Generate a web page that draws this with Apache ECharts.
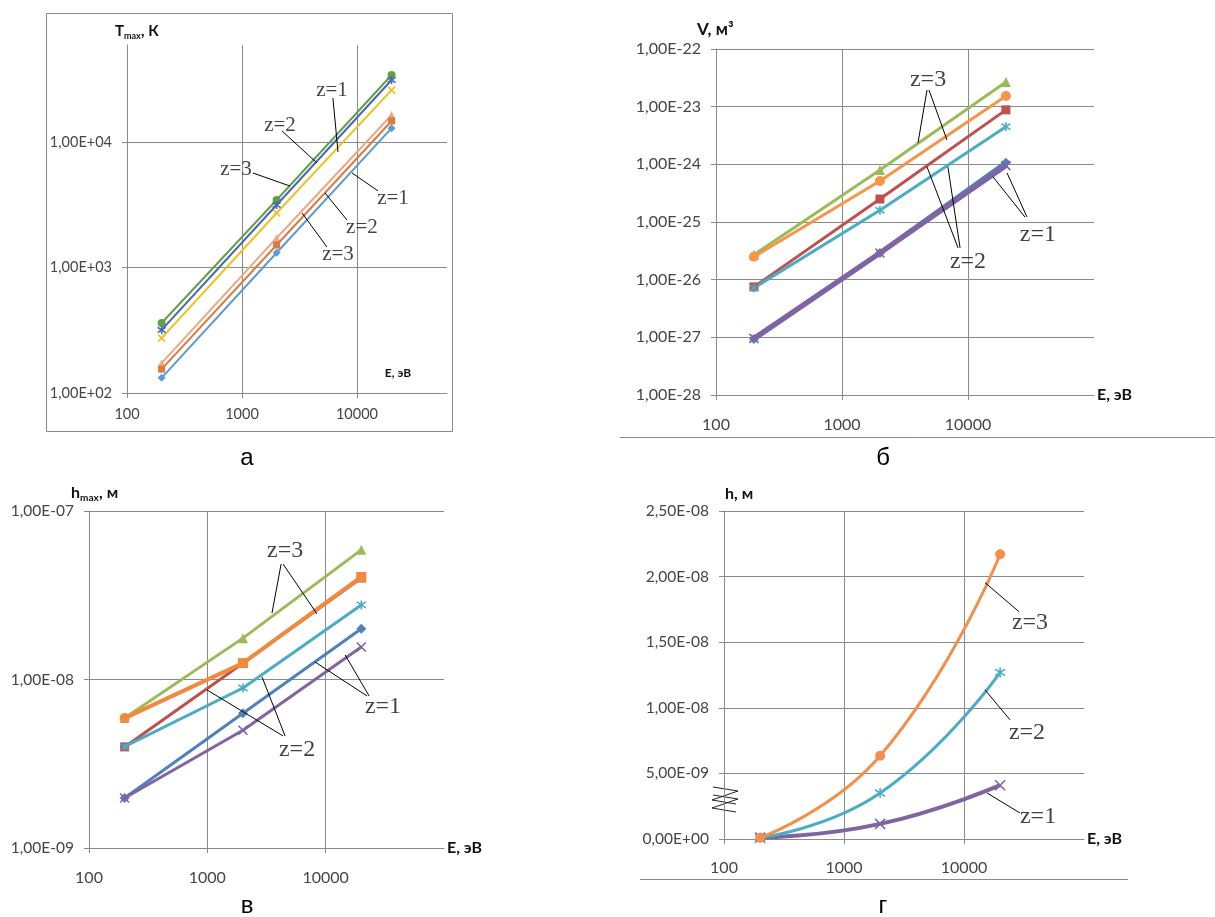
<!DOCTYPE html>
<html><head><meta charset="utf-8">
<script src="https://cdn.jsdelivr.net/npm/echarts@6/dist/echarts.min.js"></script>
<style>html,body{margin:0;padding:0;background:#fff}#c{width:1215px;height:917px}</style>
</head><body><div id="c"></div>
<script>
// ---------- data ----------
const energy = [200, 2000, 20000];               // E, эВ
const xTickLabels = ['100', '1000', '10000'];

// panel а : Tmax, K
const yTicksA = ['1,00E+02', '1,00E+03', '1,00E+04'];
const tA_z1lo = [132, 1310, 12900];
const tA_z2lo = [155, 1510, 14700];
const tA_z3lo = [173, 1720, 16400];
const tA_z1hi = [274, 2720, 25900];
const tA_z2hi = [318, 3150, 31200];
const tA_z3hi = [361, 3450, 34200];

// panel б : V, м3
const yTicksB = ['1,00E-28', '1,00E-27', '1,00E-26', '1,00E-25', '1,00E-24', '1,00E-23', '1,00E-22'];
const vB_blue   = [9.4e-28, 2.9e-26, 1.06e-24];
const vB_red    = [7.5e-27, 2.5e-25, 8.8e-24];
const vB_green  = [2.7e-26, 8.0e-25, 2.68e-23];
const vB_purple = [9.6e-28, 2.9e-26, 9.5e-25];
const vB_aqua   = [7.2e-27, 1.6e-25, 4.5e-24];
const vB_orange = [2.5e-26, 5.15e-25, 1.53e-23];

// panel в : hmax, м
const yTicksC = ['1,00E-09', '1,00E-08', '1,00E-07'];
const hC_blue   = [1.98e-9, 6.3e-9, 2.0e-8];
const hC_red    = [3.98e-9, 1.25e-8, 4.0e-8];
const hC_green  = [5.91e-9, 1.76e-8, 5.88e-8];
const hC_purple = [1.98e-9, 5.0e-9, 1.56e-8];
const hC_aqua   = [4.0e-9, 8.9e-9, 2.77e-8];
const hC_orange = [5.9e-9, 1.25e-8, 4.06e-8];

// panel г : h, м
const yTicksD = ['0,00E+00', '5,00E-09', '1,00E-08', '1,50E-08', '2,00E-08', '2,50E-08'];
const hD_purple = [1.0e-10, 1.15e-9, 4.1e-9];
const hD_aqua   = [1.0e-10, 3.5e-9, 1.27e-8];
const hD_orange = [1.0e-10, 6.34e-9, 2.17e-8];

// annotations: [text, E, value] and leader lines [[E1,v1],[E2,v2]]
const notesA = [['z=1', 6070, 25900], ['z=2', 2140, 13650], ['z=3', 887, 5990],
                ['z=1', 20560, 3580], ['z=2', 11040, 2100], ['z=3', 6840, 1259]];
const leadersA = [[[6180, 22400], [6840, 8320]], [[2230, 12240], [4490, 6810]], [[1247, 5660], [2610, 4460]],
                  [[15240, 4080], [9060, 5660]], [[8190, 2390], [5270, 3930]], [[5480, 1456], [3330, 2720]]];
const notesB = [['z=3', 4820, 2.9e-23], ['z=2', 10000, 2.03e-26], ['z=1', 35900, 5.97e-26]];
const leadersB = [[[4730, 1.95e-23], [4010, 2.35e-24]], [[4900, 1.95e-23], [6810, 2.65e-24]],
                  [[8340, 3.56e-26], [4730, 9.0e-25]], [[8650, 3.56e-26], [6930, 9.0e-25]],
                  [[28300, 1.22e-25], [15800, 6.05e-25]], [[29400, 1.22e-25], [20400, 7.1e-25]]];
const notesC = [['z=3', 4540, 5.79e-8], ['z=2', 5730, 3.82e-9], ['z=1', 30500, 6.87e-9]];
const leadersC = [[[4200, 4.84e-8], [3520, 2.48e-8]], [[4370, 4.84e-8], [8450, 2.45e-8]],
                  [[4370, 4.62e-9], [994, 8.67e-9]], [[4540, 4.62e-9], [2900, 1.035e-8]],
                  [[22400, 7.98e-9], [8130, 1.27e-8]], [[23300, 7.98e-9], [14600, 1.40e-8]]];
const notesD = [['z=3', 35500, 1.649e-8], ['z=2', 33500, 8.09e-9], ['z=1', 41400, 1.68e-9]];
const leadersD = [[[28700, 1.733e-8], [14960, 1.954e-8]], [[24200, 9.08e-9], [14960, 1.137e-8]],
                  [[29300, 1.98e-9], [15550, 3.51e-9]]];

// ECharts rounds numbers to 20 decimals, so panel б is plotted in units of 1e-25 m3
const B_UNIT = 1e-25;
const bScale = (v) => v / B_UNIT;

// ---------- styling ----------
const GRID = '#8a8a8a', LAB = '#454545';
const SANS = 'Lato, "Open Sans", sans-serif';
const SERIF = '"Liberation Serif", "DejaVu Serif", serif';
const X_PATH = 'path://M0,0L10,10M10,0L0,10';
const STAR_PATH = 'path://M0,1L10,9M10,1L0,9M5,-1L5,11';

function logFmt(labels, minExp) {
  return function (v) {
    const e = Math.log10(v), r = Math.round(e);
    if (Math.abs(e - r) > 1e-6) return '';
    const s = labels[r - minExp];
    return s === undefined ? '' : s;
  };
}
function xAxis(gi, max, margin, name, fs) {
  return {
    type: 'log', logBase: 10, gridIndex: gi, min: 100, max: max,
    name: name || '', nameLocation: 'end', nameGap: 3,
    nameTextStyle: { fontFamily: SANS, fontWeight: 'bold', fontSize: 16, color: '#111' },
    axisLine: { show: true, lineStyle: { color: GRID, width: 1 } },
    axisTick: { show: true, length: 5, lineStyle: { color: GRID } },
    minorTick: { show: false }, minorSplitLine: { show: false },
    splitLine: { show: true, showMinLine: false, showMaxLine: false, lineStyle: { color: GRID, width: 1 } },
    axisLabel: { formatter: logFmt(xTickLabels, 2), showMaxLabel: false, showMinLabel: true,
                 color: LAB, fontFamily: SANS, fontSize: fs, margin: margin }
  };
}
function yLog(gi, min, max, labels, minExp, showMax, fs) {
  return {
    type: 'log', logBase: 10, gridIndex: gi, min: min, max: max,
    axisLine: { show: true, lineStyle: { color: GRID, width: 1 } },
    axisTick: { show: true, length: 5, lineStyle: { color: GRID } },
    minorTick: { show: false }, minorSplitLine: { show: false },
    splitLine: { show: true, showMinLine: false, showMaxLine: showMax, lineStyle: { color: GRID, width: 1 } },
    axisLabel: { formatter: logFmt(labels, minExp), showMaxLabel: showMax,
                 color: LAB, fontFamily: SANS, fontSize: fs, margin: 15 }
  };
}
function ser(gi, vals, color, symbol, width, size, z, extra, scale) {
  const stroke = symbol === X_PATH || symbol === STAR_PATH;
  const f = scale || ((v) => v);
  return Object.assign({
    type: 'line', xAxisIndex: gi, yAxisIndex: gi,
    data: energy.map((e, i) => [e, f(vals[i])]),
    symbol: symbol, symbolSize: size, showSymbol: true, z: z,
    lineStyle: { color: color, width: width },
    itemStyle: { color: stroke ? 'rgba(0,0,0,0)' : color, borderColor: color, borderWidth: stroke ? 1.6 : 0 },
    silent: true, animation: false
  }, extra || {});
}
function leaderSer(gi, list, scale) {
  const f = scale || ((v) => v);
  return { type: 'lines', coordinateSystem: 'cartesian2d', xAxisIndex: gi, yAxisIndex: gi,
           silent: true, z: 20, animation: false,
           lineStyle: { color: '#000', width: 1, opacity: 1, curveness: 0 },
           data: list.map(c => ({ coords: c.map(p => [p[0], f(p[1])]) })) };
}
function noteSer(gi, list, fs, scale) {
  const f = scale || ((v) => v);
  return { type: 'scatter', xAxisIndex: gi, yAxisIndex: gi, silent: true, z: 21, animation: false,
           symbolSize: 1, itemStyle: { color: 'rgba(0,0,0,0)' },
           label: { show: true, position: 'inside', formatter: '{b}', fontFamily: SERIF, fontSize: fs, color: '#111' },
           data: list.map(n => ({ name: n[0], value: [n[1], f(n[2])] })) };
}

const chart = echarts.init(document.getElementById('c'), null, { renderer: 'canvas' });

const xMaxA = Math.pow(10, 4.783);
const yMaxA = Math.pow(10, 4.773);

const option = {
  backgroundColor: '#fff',
  animation: false,
  grid: [
    { left: 127, top: 45, width: 320, height: 348 },
    { left: 716, top: 49, width: 378, height: 346 },
    { left: 89, top: 511, width: 355, height: 337 },
    { left: 724, top: 511, width: 360, height: 328 }
  ],
  xAxis: [
    xAxis(0, xMaxA, 14, '', 14.5),
    xAxis(1, 100000, 22, 'E, эВ', 16),
    xAxis(2, 100000, 22, 'E, эВ', 16),
    xAxis(3, 100000, 21, 'E, эВ', 16)
  ],
  yAxis: [
    yLog(0, 100, yMaxA, yTicksA, 2, false, 14.5),
    yLog(1, bScale(1e-28), bScale(1e-22), yTicksB, Math.round(Math.log10(bScale(1e-28))), true, 16),
    yLog(2, 1e-9, 1e-7, yTicksC, -9, true, 15.5),
    {
      type: 'value', gridIndex: 3, min: 0, max: 2.5e-8, interval: 5e-9,
      axisLine: { show: true, lineStyle: { color: GRID } },
      axisTick: { show: true, length: 5, lineStyle: { color: GRID } },
      splitLine: { show: true, lineStyle: { color: GRID } },
      axisLabel: { formatter: (v) => { const s = yTicksD[Math.round(v / 5e-9)]; return s === undefined ? '' : s; },
                   color: LAB, fontFamily: SANS, fontSize: 15.5, margin: 15 }
    }
  ],
  series: [
    // а
    ser(0, tA_z1lo, '#5b9bd5', 'diamond', 2, 8, 2),
    ser(0, tA_z2lo, '#dd7a3c', 'rect', 2, 7, 3),
    ser(0, tA_z3lo, '#e8a987', 'triangle', 2, 8, 2),
    ser(0, tA_z1hi, '#f0c020', X_PATH, 2, 7, 2),
    ser(0, tA_z2hi, '#4a68b0', STAR_PATH, 2, 8, 3),
    ser(0, tA_z3hi, '#62a046', 'circle', 2, 8, 2),
    // б
    ser(1, vB_blue, '#4f81bd', 'diamond', 5, 10, 2, null, bScale),
    ser(1, vB_red, '#c0504d', 'rect', 3, 9, 3, null, bScale),
    ser(1, vB_green, '#9bbb59', 'triangle', 3, 10, 2, null, bScale),
    ser(1, vB_purple, '#8064a2', X_PATH, 5, 9, 3, null, bScale),
    ser(1, vB_aqua, '#4bacc6', STAR_PATH, 3, 9, 3, null, bScale),
    ser(1, vB_orange, '#f79646', 'circle', 3, 10, 4, null, bScale),
    // в
    ser(2, hC_blue, '#4f81bd', 'diamond', 3, 10, 2),
    ser(2, hC_red, '#c0504d', 'rect', 3, 9, 2),
    ser(2, hC_green, '#9bbb59', 'triangle', 3, 10, 2),
    ser(2, hC_purple, '#8064a2', X_PATH, 3, 9, 3),
    ser(2, hC_aqua, '#4bacc6', STAR_PATH, 3, 9, 3),
    ser(2, hC_orange, '#f08a3e', (v, p) => (p.dataIndex === 0 ? 'circle' : 'rect'), 4, 10, 4),
    // г
    ser(3, hD_purple, '#8064a2', X_PATH, 4, 10, 2, { smooth: 0.5 }),
    ser(3, hD_aqua, '#4bacc6', STAR_PATH, 3, 10, 3, { smooth: 0.5 }),
    ser(3, hD_orange, '#f0904a', 'circle', 3, 10, 4, { smooth: 0.5 }),
    // annotations
    leaderSer(0, leadersA), noteSer(0, notesA, 21),
    leaderSer(1, leadersB, bScale), noteSer(1, notesB, 24, bScale),
    leaderSer(2, leadersC), noteSer(2, notesC, 24),
    leaderSer(3, leadersD), noteSer(3, notesD, 24)
  ],
  graphic: [
    // frames
    { type: 'rect', shape: { x: 46.5, y: 13.5, width: 406, height: 418 }, style: { fill: 'none', stroke: '#8a8a8a', lineWidth: 1 }, silent: true },
    { type: 'line', shape: { x1: 620, y1: 437.5, x2: 1215, y2: 437.5 }, style: { stroke: '#8a8a8a', lineWidth: 1 }, silent: true },
    { type: 'line', shape: { x1: 640, y1: 879.5, x2: 1128, y2: 879.5 }, style: { stroke: '#8a8a8a', lineWidth: 1 }, silent: true },
    // axis titles
    { type: 'text', x: 115, y: 31, style: { text: 'T', font: 'bold 15px ' + SANS, fill: '#111', verticalAlign: 'middle' } },
    { type: 'text', x: 124, y: 36, style: { text: 'max', font: 'bold 9px ' + SANS, fill: '#111', verticalAlign: 'middle' } },
    { type: 'text', x: 141, y: 31, style: { text: ', К', font: 'bold 15px ' + SANS, fill: '#111', verticalAlign: 'middle' } },
    { type: 'text', x: 398, y: 373, style: { text: 'E, эВ', font: 'bold 12px ' + SANS, fill: '#111', align: 'center', verticalAlign: 'middle' } },
    { type: 'text', x: 697, y: 30, style: { text: 'V, м³', font: 'bold 17px ' + SANS, fill: '#111', verticalAlign: 'middle' } },
    { type: 'text', x: 71, y: 493, style: { text: 'h', font: 'bold 16px ' + SANS, fill: '#111', verticalAlign: 'middle' } },
    { type: 'text', x: 80, y: 498, style: { text: 'max', font: 'bold 10px ' + SANS, fill: '#111', verticalAlign: 'middle' } },
    { type: 'text', x: 99, y: 493, style: { text: ', м', font: 'bold 16px ' + SANS, fill: '#111', verticalAlign: 'middle' } },
    { type: 'text', x: 725, y: 494, style: { text: 'h, м', font: 'bold 16px ' + SANS, fill: '#111', verticalAlign: 'middle' } },
    // axis break mark (г)
    { type: 'polyline', shape: { points: [[713, 787], [738, 791], [712, 800], [736, 804]] }, style: { stroke: '#222', lineWidth: 1, fill: 'none' }, silent: true },
    { type: 'polyline', shape: { points: [[713, 795], [738, 799], [712, 808], [736, 812]] }, style: { stroke: '#222', lineWidth: 1, fill: 'none' }, silent: true },
    // captions
    { type: 'text', x: 247, y: 458, style: { text: 'а', font: '24px "Liberation Sans", Arial, sans-serif', fill: '#000', align: 'center', verticalAlign: 'middle' } },
    { type: 'text', x: 883, y: 458, style: { text: 'б', font: '24px "Liberation Sans", Arial, sans-serif', fill: '#000', align: 'center', verticalAlign: 'middle' } },
    { type: 'text', x: 247, y: 906, style: { text: 'в', font: '24px "Liberation Sans", Arial, sans-serif', fill: '#000', align: 'center', verticalAlign: 'middle' } },
    { type: 'text', x: 883, y: 906, style: { text: 'г', font: '24px "Liberation Sans", Arial, sans-serif', fill: '#000', align: 'center', verticalAlign: 'middle' } }
  ]
};
chart.setOption(option);
</script>
</body></html>
